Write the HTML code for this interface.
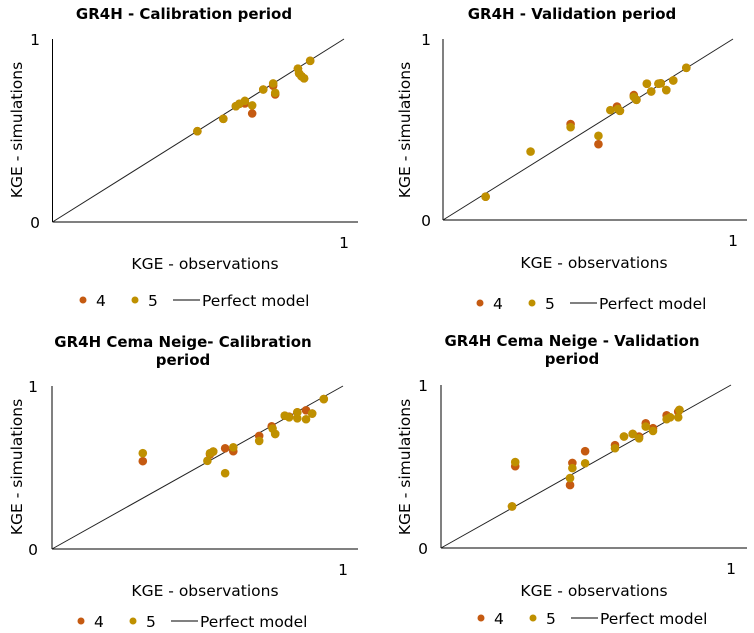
<!DOCTYPE html>
<html><head><meta charset="utf-8"><style>
html,body{margin:0;padding:0;background:#fff;}
svg{display:block;font-family:"DejaVu Sans","Liberation Sans",sans-serif;}
</style></head><body>
<svg id="chart" width="754" height="633" viewBox="0 0 754 633"></svg>
<script>
// Panel 1: GR4H Calibration
const p1_s4_x = [0.497,0.586,0.629,0.641,0.660,0.685,0.723,0.757,0.764,0.842,0.846,0.854,0.863,0.884];
const p1_s4_y = [0.496,0.564,0.633,0.646,0.648,0.593,0.724,0.745,0.697,0.838,0.812,0.797,0.785,0.881];
const p1_s5_x = [0.497,0.586,0.629,0.641,0.660,0.685,0.723,0.757,0.764,0.842,0.846,0.854,0.863,0.884];
const p1_s5_y = [0.496,0.564,0.633,0.646,0.662,0.637,0.724,0.757,0.706,0.838,0.812,0.797,0.785,0.881];
// Panel 2: GR4H Validation
const p2_s4_x = [0.147,0.440,0.536,0.600,0.610,0.658,0.667,0.703,0.718,0.743,0.751,0.770,0.794,0.839];
const p2_s4_y = [0.129,0.530,0.419,0.627,0.603,0.690,0.664,0.753,0.710,0.753,0.755,0.718,0.771,0.841];
const p2_s5_x = [0.147,0.302,0.440,0.536,0.577,0.603,0.610,0.658,0.667,0.703,0.718,0.743,0.751,0.770,0.794,0.839];
const p2_s5_y = [0.129,0.378,0.513,0.465,0.607,0.614,0.603,0.680,0.664,0.753,0.710,0.753,0.755,0.718,0.771,0.841];
// Panel 3: GR4H Cema Neige Calibration
const p3_s4_x = [0.312,0.543,0.554,0.595,0.623,0.712,0.755,0.767,0.800,0.815,0.843,0.873,0.894,0.934];
const p3_s4_y = [0.539,0.580,0.598,0.618,0.600,0.694,0.753,0.706,0.818,0.812,0.839,0.851,0.831,0.920];
const p3_s5_x = [0.312,0.534,0.543,0.554,0.595,0.623,0.712,0.758,0.767,0.800,0.815,0.843,0.843,0.873,0.894,0.934];
const p3_s5_y = [0.588,0.541,0.588,0.598,0.465,0.624,0.663,0.739,0.706,0.818,0.808,0.839,0.802,0.796,0.831,0.920];
// Panel 4: GR4H Cema Neige Validation
const p4_s4_x = [0.245,0.256,0.445,0.453,0.497,0.600,0.631,0.661,0.683,0.706,0.731,0.778,0.790,0.818,0.822];
const p4_s4_y = [0.255,0.502,0.386,0.522,0.594,0.631,0.684,0.700,0.684,0.765,0.735,0.814,0.802,0.837,0.847];
const p4_s5_x = [0.245,0.256,0.445,0.453,0.497,0.600,0.631,0.661,0.683,0.706,0.731,0.778,0.790,0.818,0.822];
const p4_s5_y = [0.255,0.527,0.429,0.490,0.520,0.612,0.684,0.700,0.673,0.745,0.718,0.790,0.802,0.802,0.847];

const C4 = "#c55a11", C5 = "#bf9000";
const NS = "http://www.w3.org/2000/svg";
const svg = document.getElementById('chart');
function mk(tag, attrs, parent, text){
  const e = document.createElementNS(NS, tag);
  for (const k in attrs) e.setAttribute(k, attrs[k]);
  if (text !== undefined) e.textContent = text;
  (parent||svg).appendChild(e);
  return e;
}
const FS = '15.5';
const panels = [
  {id:'calibration', title:['GR4H - Calibration  period'], tx:184, ty:[19], ox:52.5, oy:222, x1:344, yt:39, xend:358, ytx:35, s4x:p1_s4_x, s4y:p1_s4_y, s5x:p1_s5_x, s5y:p1_s5_y, ytitX:17, ytitY:130, xtitX:205, xtitY:269, legY:300, legX:83},
  {id:'validation', title:['GR4H - Validation  period'], tx:572, ty:[19], ox:443, oy:220, x1:733, yt:39, xend:747, ytx:426, s4x:p2_s4_x, s4y:p2_s4_y, s5x:p2_s5_x, s5y:p2_s5_y, ytitX:405, ytitY:130, xtitX:594, xtitY:268, legY:303, legX:480},
  {id:'cema-calibration', title:['GR4H Cema Neige- Calibration','period'], tx:183, ty:[347,365], ox:52, oy:549, x1:343, yt:386, xend:358, ytx:33, s4x:p3_s4_x, s4y:p3_s4_y, s5x:p3_s5_x, s5y:p3_s5_y, ytitX:17, ytitY:467, xtitX:205, xtitY:596, legY:621, legX:81},
  {id:'cema-validation', title:['GR4H Cema Neige - Validation','period'], tx:572, ty:[346,364], ox:441, oy:548, x1:731, yt:385, xend:747, ytx:423, s4x:p4_s4_x, s4y:p4_s4_y, s5x:p4_s5_x, s5y:p4_s5_y, ytitX:405, ytitY:467, xtitX:594, xtitY:596, legY:618, legX:481}
];
panels.forEach(p => {
  const g = mk('g', {});
  
  
  const X = v => p.ox + v * (p.x1 - p.ox);
  const Y = v => p.oy - v * (p.oy - p.yt);
  p.title.forEach((t, i) => {
    const e = mk('text', {x:p.tx, y:p.ty[i], 'text-anchor':'middle', 'font-size':'15', 'font-weight':'bold', fill:'#000'}, g, t);
    
    
  });
  const ya = mk('line', {x1:p.ox, y1:p.yt, x2:p.ox, y2:p.oy, stroke:'#000', 'stroke-width':1}, g);
  
  
  const xa = mk('line', {x1:p.ox, y1:p.oy, x2:p.xend, y2:p.oy, stroke:'#000', 'stroke-width':1}, g);
  
  
  const dl = mk('line', {x1:X(0), y1:Y(0), x2:X(1), y2:Y(1), stroke:'#222', 'stroke-width':1}, g);
  
  
  const t1 = mk('text', {x:p.ytx, y:Y(1)+6, 'text-anchor':'middle', 'font-size':FS}, g, '1');
  
  
  const t0 = mk('text', {x:p.ytx, y:Y(0)+6, 'text-anchor':'middle', 'font-size':FS}, g, '0');
  
  
  const tx1 = mk('text', {x:X(1), y:p.oy+26, 'text-anchor':'middle', 'font-size':FS}, g, '1');
  
  
  const xt = mk('text', {x:p.xtitX, y:p.xtitY, 'text-anchor':'middle', 'font-size':FS}, g, 'KGE - observations');
  
  
  const yt = mk('text', {x:0, y:0, 'text-anchor':'middle', 'font-size':FS, transform:`translate(${p.ytitX+5},${p.ytitY}) rotate(-90)`}, g, 'KGE - simulations');
  
  
  p.s4x.forEach((v, i) => {
    const c = mk('circle', {cx:X(v), cy:Y(p.s4y[i]), r:4.3, fill:C4}, g);
    
    
  });
  p.s5x.forEach((v, i) => {
    const c = mk('circle', {cx:X(v), cy:Y(p.s5y[i]), r:4.3, fill:C5}, g);
    
    
  });
  const lg = mk('g', {}, g);
  
  
  const L = p.legX, LY = p.legY;
  const e1 = mk('circle', {cx:L, cy:LY, r:3.5, fill:C4}, lg);
  
  
  const e2 = mk('text', {x:L+13, y:LY+6, 'font-size':FS}, lg, '4');
  
  
  const e3 = mk('circle', {cx:L+52, cy:LY, r:3.5, fill:C5}, lg);
  
  
  const e4 = mk('text', {x:L+65, y:LY+6, 'font-size':FS}, lg, '5');
  
  
  const e5 = mk('line', {x1:L+90, y1:LY, x2:L+117, y2:LY, stroke:'#000', 'stroke-width':1}, lg);
  
  
  const e6 = mk('text', {x:L+119, y:LY+6, 'font-size':FS}, lg, 'Perfect model');
  
  
});
</script>
</body></html>
